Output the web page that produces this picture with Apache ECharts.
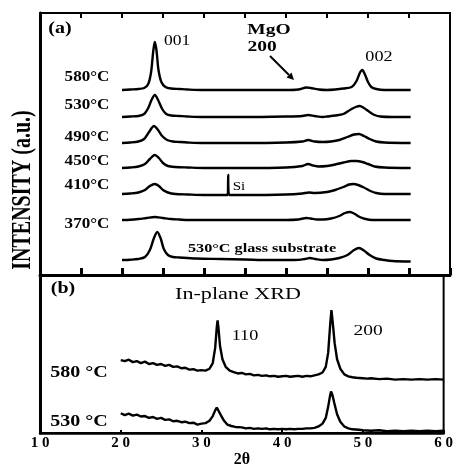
<!DOCTYPE html>
<html><head><meta charset="utf-8">
<script src="https://cdn.jsdelivr.net/npm/echarts@6/dist/echarts.min.js"></script>
<style>html,body{margin:0;padding:0;background:#fff}#c{width:456px;height:469px}</style>
</head><body><div id="c"></div>
<script>
// ---- Data (2θ, intensity a.u.) ----
const xTicks = [10, 20, 30, 40, 50, 60];
const tempLabelsA = ['580°C', '530°C', '490°C', '450°C', '410°C', '370°C'];
// vertical offsets of stacked traces in panel (a)
const offsetsA = [185, 158, 132, 107, 81, 55, 15];
const a580 = [[20,0],[21,0.5],[22,1],[22.7,2],[23.2,6],[23.55,18],[23.8,38],[24.0,48],[24.2,40],[24.45,20],[24.8,8],[25.3,3],[26,1.5],[27,1],[28,0.5],[30,0],[33,0],[36,0],[38,0],[40,0],[41.5,0.5],[42.5,2.5],[43,2],[44,0.5],[45,0],[46,0.5],[47,1.5],[48,3],[48.6,9],[49.0,17],[49.3,20],[49.6,16],[50,8],[50.4,3],[51,1],[52,0],[55.2,0]];
const a530 = [[20,0],[21,0.5],[22,1],[22.7,3],[23.2,9],[23.6,17],[24.0,22],[24.4,17],[24.9,8],[25.4,3],[26,1.5],[27,1],[28,0.5],[30,0],[35,0],[40,0.5],[42,1],[42.7,2],[43.5,1],[44.5,0],[45,0.5],[46,1.5],[47,3],[47.8,7],[48.5,10],[49.0,11],[49.5,9],[50.2,5],[50.8,2],[51.5,0.5],[53,0],[55.2,0]];
const a490 = [[20,0],[21,0.5],[22,1.5],[22.7,4],[23.3,11],[23.9,17],[24.4,13],[24.9,7],[25.5,3],[26.2,1.5],[27,1],[28,0.5],[30,0],[35,0],[40,0.5],[42,1.5],[42.7,3],[43.5,1.5],[44.5,1],[45.5,1.5],[46.5,3],[47.5,6],[48.3,8.5],[48.9,9],[49.5,7],[50.2,4],[51,1.5],[52,0.5],[55.2,0]];
const a450 = [[20,0],[21,0.5],[22,1.5],[22.8,4],[23.4,9],[24.0,13],[24.5,10],[25,5],[25.6,2],[26.5,1],[28,0.5],[30,0],[35,0],[40,0.5],[42,2],[42.7,4],[43.3,2.5],[44,1.5],[45,2],[46,3.5],[47,5.5],[48,7],[48.6,7],[49.3,6],[50,4],[50.8,1.5],[52,0.5],[55.2,0]];
const a410 = [[20,0],[21,0.5],[22,1.5],[22.8,4],[23.4,8],[24.0,10],[24.5,8],[25,4],[25.6,1.5],[26.5,0],[28,-0.5],[30,-1],[32.9,-1],[32.95,19],[33.0,19],[33.05,-1],[35,-1],[40,-0.5],[42,0.5],[42.8,1.5],[43.5,1],[45,2],[46,4],[47,7],[47.7,9.5],[48.2,10],[48.8,9],[49.5,6.5],[50.3,3],[51,1],[52,0],[55.2,0]];
const a370 = [[20,0],[21,0.3],[22,1],[23,2],[24,3],[25,2],[26,1],[27,0.5],[28,0],[30,0],[35,0],[40,0],[41.5,0.5],[42.5,2],[43,1.5],[43.8,0.5],[44.5,0.5],[45.5,1.5],[46.5,4],[47.2,7],[47.8,8],[48.4,6],[49,3],[49.7,1],[50.5,0],[52,0],[55.2,0]];
const aGlass = [[20,0],[21,0.3],[22,1],[22.8,3],[23.4,10],[23.9,22],[24.3,28],[24.7,22],[25.1,11],[25.6,5],[26.2,3],[27,2.5],[29,1.5],[32,1],[35,0.5],[38,0],[41,0],[42.3,1],[42.9,2],[43.6,1],[44.5,0],[45.5,0.5],[46.5,2],[47.5,5],[48.3,10],[48.9,12],[49.5,9.5],[50.2,5],[51,1.5],[52,0],[53,-1],[55.2,-1.5]];
// panel (b): in-plane XRD
const b580 = [[20,77],[20.5,76],[21,77.5],[21.5,75],[22,76],[22.5,74],[23,75.5],[23.5,73],[24,74],[24.5,72],[25,73],[25.5,71],[26,72],[26.5,70],[27,70.5],[27.5,68.5],[28,69],[28.5,67],[29,67.5],[29.5,66],[30,66.5],[30.5,66],[31,68],[31.4,74],[31.7,90],[31.9,112],[32,119],[32.1,112],[32.3,92],[32.6,78],[33,70],[33.5,66],[34,64.5],[34.5,63],[35,63.5],[35.5,62],[36,62.5],[36.5,61],[37,61.5],[37.5,60.5],[38,61],[38.5,60],[39,60.5],[39.5,59.5],[40,60],[40.5,60.5],[41,59.5],[41.5,60],[42,60.5],[42.5,59.5],[43,60.5],[43.5,60],[44,61],[44.5,62],[45,64],[45.4,70],[45.7,85],[45.95,115],[46.1,130],[46.25,118],[46.5,95],[46.8,78],[47.2,68],[47.7,62],[48.2,60],[48.7,59],[49.2,58.5],[50,58],[50.5,57.5],[51,58],[52,57],[53,57.5],[54,56.5],[55,57],[56,56.5],[57,57],[58,56.5],[59,57],[60,56.5]];
const b530 = [[20,21],[20.5,19],[21,20.5],[21.5,18.5],[22,19.5],[22.5,17.5],[23,18],[23.5,16],[24,17],[24.5,15],[25,16],[25.5,14],[26,14.5],[26.5,12.5],[27,13],[27.5,11.5],[28,12],[28.5,10.5],[29,11],[29.5,9],[30,10],[30.5,10.5],[31,13],[31.4,18],[31.7,24],[31.9,27],[32.1,25],[32.4,19],[32.8,13],[33.2,9],[33.7,7.5],[34.2,6.5],[35,6],[35.5,5],[36,5.5],[36.5,4.5],[37,5],[37.5,4.5],[38,5],[38.5,4],[39,4.5],[39.5,4],[40,4.5],[40.5,4],[41,4.5],[41.5,4],[42,4.5],[42.5,4.5],[43,5],[43.5,5],[44,5.5],[44.5,7],[45,10],[45.4,16],[45.7,28],[45.9,38],[46.05,44],[46.2,41],[46.45,32],[46.8,20],[47.2,12],[47.7,7],[48.2,5],[48.7,4],[49.5,3.5],[50,3],[51,2.5],[52,3],[53,2],[54,2.5],[55,2],[56,2.5],[57,2],[58,2.5],[59,2],[60,2.5]];

const tracesA = [a580, a530, a490, a450, a410, a370, aGlass];

const FONT = '"Liberation Serif","Times New Roman",serif';
function txt(s, x, y, size, bold, sx) {
  return { type: 'text', x: x, y: y, scaleX: sx || 1.25, z: 100,
    style: { text: s, font: (bold ? 'bold ' : '') + size + 'px ' + FONT, fill: '#000',
      textAlign: 'center', textVerticalAlign: 'middle', align: 'center', verticalAlign: 'middle' } };
}

const chart = echarts.init(document.getElementById('c'), null, { renderer: 'canvas' });

const seriesA = tracesA.map((t, i) => ({
  type: 'line', xAxisIndex: 0, yAxisIndex: 0, showSymbol: false, symbol: 'none', smooth: 0.3,
  lineStyle: { color: '#000', width: 2.4 }, silent: true,
  data: t.map(p => [p[0], p[1] + offsetsA[i]])
}));
const seriesB = [b580, b530].map(t => ({
  type: 'line', xAxisIndex: 2, yAxisIndex: 1, showSymbol: false, symbol: 'none',
  lineStyle: { color: '#000', width: 2.4 }, silent: true, data: t
}));

const graphics = [];
const ty = [77, 105, 137, 161, 185, 224];
tempLabelsA.forEach((s, i) => graphics.push(txt(s, 87, ty[i], 14, true, 1.22)));
graphics.push(txt('(a)', 60, 29, 16, true, 1.25));
graphics.push(txt('001', 177, 41, 14, false, 1.25));
graphics.push(txt('MgO', 269, 30, 15, true, 1.3));
graphics.push(txt('200', 262, 47, 15, true, 1.3));
graphics.push(txt('002', 379, 57, 14, false, 1.3));
graphics.push(txt('Si', 239, 187, 12, false, 1.25));
graphics.push(txt('530°C glass substrate', 262, 249, 13, true, 1.25));
graphics.push(txt('(b)', 63, 289, 16, true, 1.25));
graphics.push(txt('In-plane XRD', 238, 295, 17, false, 1.3));
graphics.push(txt('110', 245, 336, 14, false, 1.3));
graphics.push(txt('200', 368, 331, 15, false, 1.3));
graphics.push(txt('580 °C', 79, 373, 16, true, 1.25));
graphics.push(txt('530 °C', 79, 422, 16, true, 1.25));
// arrow for MgO 200
graphics.push({ type: 'line', z: 100, shape: { x1: 270, y1: 56, x2: 289, y2: 75 }, style: { stroke: '#000', lineWidth: 2 } });
graphics.push({ type: 'polygon', z: 100, shape: { points: [[294, 80], [286.5, 77.5], [291.5, 72.5]] }, style: { fill: '#000' } });
// y axis title
graphics.push({ type: 'text', x: 23, y: 190, rotation: Math.PI / 2, scaleY: 1.4, z: 100,
  style: { text: 'INTENSITY (a.u.)', font: 'bold 20px ' + FONT, fill: '#000',
    textAlign: 'center', textVerticalAlign: 'middle', align: 'center', verticalAlign: 'middle' } });

chart.setOption({
  animation: false,
  backgroundColor: '#fff',
  grid: [
    { left: 40, top: 13, width: 410, height: 262, show: true, borderColor: '#000', borderWidth: 2 },
    { left: 40, top: 275, width: 410, height: 167, show: true, borderColor: '#000', borderWidth: 2 }
  ],
  xAxis: [
    { gridIndex: 0, type: 'value', min: 10, max: 60, interval: 5, position: 'bottom',
      axisLine: { show: true, onZero: false, lineStyle: { color: '#000', width: 3 } },
      axisTick: { show: true, inside: true, length: 7, lineStyle: { color: '#000', width: 3 } },
      axisLabel: { show: false }, splitLine: { show: false } },
    { gridIndex: 0, type: 'value', min: 10, max: 60, interval: 5, position: 'top',
      axisLine: { show: true, onZero: false, lineStyle: { color: '#000', width: 2 } },
      axisTick: { show: true, inside: true, length: 5, lineStyle: { color: '#000', width: 2 } },
      axisLabel: { show: false }, splitLine: { show: false } },
    { gridIndex: 1, type: 'value', min: 10, max: 60, interval: 10, position: 'bottom',
      axisLine: { show: true, onZero: false, lineStyle: { color: '#000', width: 2.5 } },
      axisTick: { show: true, inside: true, length: 3, lineStyle: { color: '#000', width: 2 } },
      axisLabel: { show: true, margin: 3, color: '#000', fontFamily: FONT, fontWeight: 'bold', fontSize: 15,
        formatter: v => xTicks.indexOf(v) >= 0 ? String(v).split('').join(' ') : '' },
      name: '2θ', nameLocation: 'middle', nameGap: 18,
      nameTextStyle: { color: '#000', fontFamily: FONT, fontWeight: 'bold', fontSize: 16 },
      splitLine: { show: false } }
  ],
  yAxis: [
    { gridIndex: 0, type: 'value', min: 0, max: 262,
      axisLine: { show: true, onZero: false, lineStyle: { color: '#000', width: 3 } },
      axisTick: { show: false }, axisLabel: { show: false }, splitLine: { show: false } },
    { gridIndex: 1, type: 'value', min: 0, max: 167,
      axisLine: { show: true, onZero: false, lineStyle: { color: '#000', width: 3 } },
      axisTick: { show: false }, axisLabel: { show: false }, splitLine: { show: false } }
  ],
  series: seriesA.concat(seriesB),
  graphic: { elements: graphics }
});
</script></body></html>
